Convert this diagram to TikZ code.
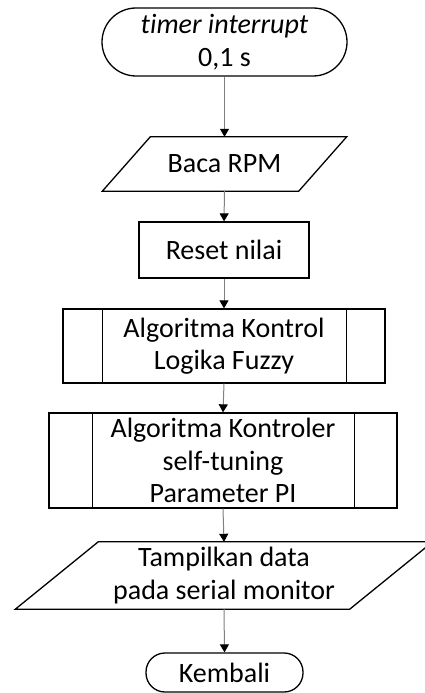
\documentclass[tikz,border=0pt]{standalone}
\usepackage{fontspec}
\setmainfont{Carlito}[Ligatures={NoCommon}]
\usetikzlibrary{arrows.meta}
\tikzset{
  shapeline/.style={draw=black, line width=1.3pt, fill=white},
  term/.style={shapeline, rounded corners=#1, inner sep=0pt, align=center},
  txt/.style={draw=none, inner sep=0pt, align=center},
  procbox/.style={shapeline, inner sep=0pt, align=center},
  conn/.style={draw=gray, line width=1pt, -{Triangle[width=9pt,length=8pt,color=black]}}
}
\begin{document}
\begin{tikzpicture}[x=1pt,y=-1pt, font=\fontsize{28}{32.5}\selectfont]
\useasboundingbox[fill=white] (0,0) rectangle (425,693);
% terminator top
\node[term=34pt, minimum width=245pt, minimum height=68pt] (t1) at (224.5,42) {\textit{timer interrupt}\\0,1 s};
% Baca RPM parallelogram
\node[txt, minimum width=196pt, minimum height=54pt] (baca) at (224.5,164) {};
\path[shapeline] ([xshift=24pt]baca.north west) -- ([xshift=24pt]baca.north east) -- ([xshift=-24pt]baca.south east) -- ([xshift=-24pt]baca.south west) -- cycle;
\node[txt] at (baca.center) {Baca RPM};
% Reset
\node[procbox, minimum width=170pt, minimum height=56pt] (reset) at (224,250) {Reset nilai};
% Algoritma 1
\node[procbox, minimum width=322pt, minimum height=74pt] (alg1) at (224,346) {Algoritma Kontrol\\Logika Fuzzy};
\draw[line width=1.3pt] ([xshift=40pt]alg1.north west) -- ([xshift=40pt]alg1.south west);
\draw[line width=1.3pt] ([xshift=-39pt]alg1.north east) -- ([xshift=-39pt]alg1.south east);
% Algoritma 2
\node[procbox, minimum width=348pt, minimum height=95pt] (alg2) at (223,460.5) {Algoritma Kontroler\\self-tuning\\Parameter PI};
\draw[line width=1.3pt] ([xshift=44pt]alg2.north west) -- ([xshift=44pt]alg2.south west);
\draw[line width=1.3pt] ([xshift=-43pt]alg2.north east) -- ([xshift=-43pt]alg2.south east);
% Tampilkan parallelogram
\node[txt, minimum width=334pt, minimum height=67pt] (tamp) at (224,575.5) {};
\path[shapeline] ([xshift=41.5pt]tamp.north west) -- ([xshift=41.5pt]tamp.north east) -- ([xshift=-41.5pt]tamp.south east) -- ([xshift=-41.5pt]tamp.south west) -- cycle;
\node[txt] at (tamp.center) {Tampilkan data\\pada serial monitor};
% Kembali
\node[term=19pt, minimum width=157pt, minimum height=39pt] (kemb) at (224.5,672.5) {Kembali};
% connectors
\draw[conn] (t1.south) -- (baca.north);
\draw[conn] (baca.south) -- (reset.north);
\draw[conn] (reset.south) -- (alg1.north);
\draw[conn] (alg1.south) -- (alg2.north);
\draw[conn] (alg2.south) -- (tamp.north);
\draw[conn] (tamp.south) -- (kemb.north);
\end{tikzpicture}
\end{document}
